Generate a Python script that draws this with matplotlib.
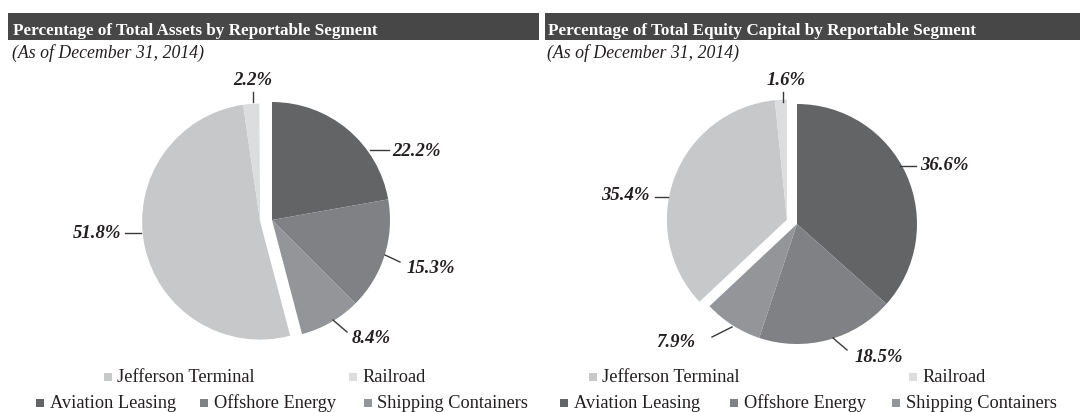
import matplotlib
matplotlib.use("Agg")
import matplotlib.pyplot as plt
from matplotlib.patches import Rectangle
import numpy as np

segments = ["Aviation Leasing", "Offshore Energy", "Shipping Containers",
            "Jefferson Terminal", "Railroad"]
assets_pct = [22.2, 15.3, 8.4, 51.8, 2.2]
equity_pct = [36.6, 18.5, 7.9, 35.4, 1.6]
colors = ["#636466", "#808184", "#939598", "#c7c8ca", "#dcdddf"]
titles = ["Percentage of Total Assets by Reportable Segment",
          "Percentage of Total Equity Capital by Reportable Segment"]
subtitle = "(As of December 31, 2014)"

W, H = 1080, 412
fig = plt.figure(figsize=(W / 100, H / 100), dpi=100)
ax = fig.add_axes([0, 0, 1, 1])

serif = ["Liberation Serif", "DejaVu Serif"]
ink = "#231f20"


def draw_pie(values, center, radius, offset):
    fr = [v / 100.0 for v in values]
    # y axis inverted -> counterclock=True renders clockwise on screen
    ax.pie(fr[:3], colors=colors[:3], startangle=-90, counterclock=True,
           normalize=False, center=center, radius=radius, frame=True,
           wedgeprops=dict(linewidth=0))
    start = -90 + 360 * sum(fr[:3])
    mid = np.deg2rad(start + 180 * sum(fr[3:]))
    c2 = (center[0] + offset * np.cos(mid), center[1] + offset * np.sin(mid))
    ax.pie(fr[3:], colors=colors[3:], startangle=start, counterclock=True,
           normalize=False, center=c2, radius=radius, frame=True,
           wedgeprops=dict(linewidth=0))


def label(txt, xy, ha, line):
    ax.text(xy[0], xy[1], txt, family=serif, fontsize=13.5, fontweight="bold",
            fontstyle="italic", ha=ha, va="baseline", color=ink)
    ax.plot([line[0], line[2]], [line[1], line[3]], color="#3a3a3c", lw=1.0)


title_x = [(8, 539, 13), (545, 1080, 548)]
for i, (x0, x1, tx) in enumerate(title_x):
    ax.add_patch(Rectangle((x0, 13), x1 - x0, 27, facecolor="#474748",
                           edgecolor="none"))
    ax.text(tx, 35, titles[i], family=serif, fontsize=12.3,
            fontweight="bold", color="white", va="baseline", ha="left")
    ax.text(tx - 1, 58, subtitle, family=serif, fontsize=12.8,
            fontstyle="italic", color=ink, va="baseline", ha="left")

draw_pie(assets_pct, (272, 220), 118, 12)
draw_pie(equity_pct, (797, 224), 120, 11)

vals_a = [f"{v}%" for v in assets_pct]
vals_e = [f"{v}%" for v in equity_pct]
label(vals_a[0], (392, 156), "left", (370, 150, 389, 150))
label(vals_a[1], (407, 273), "left", (385, 255, 400, 262))
label(vals_a[2], (352, 343), "left", (333, 320, 347, 332))
label(vals_a[3], (121, 238), "right", (125, 233, 141, 233))
label(vals_a[4], (253, 85), "center", (253, 92, 253, 102))
label(vals_e[0], (920, 170), "left", (900, 166, 916, 166))
label(vals_e[1], (855, 362), "left", (833, 338, 847, 350))
label(vals_e[2], (695, 347), "right", (712, 337, 732, 327))
label(vals_e[3], (650, 200), "right", (655, 197, 668, 197))
label(vals_e[4], (786, 85), "center", (783, 92, 783, 102))

legend_pos = [
    [(3, 107.5, 377), (4, 352.5, 377), (0, 40, 403), (1, 204, 403),
     (2, 367.5, 403)],
    [(3, 592.5, 377), (4, 912.5, 377), (0, 564, 403), (1, 734, 403),
     (2, 896, 403)],
]
for group in legend_pos:
    for idx, mx, my in group:
        ax.plot(mx, my, marker="s", ms=6.2, color=colors[idx], ls="none",
                mew=0)
        ax.text(mx + 9.5, my + 5, segments[idx], family=serif, fontsize=13.2,
                color=ink, va="baseline", ha="left")

ax.set_xlim(0, W)
ax.set_ylim(H, 0)
ax.set_aspect("equal")
ax.axis("off")
fig.savefig("out.png", dpi=100)
